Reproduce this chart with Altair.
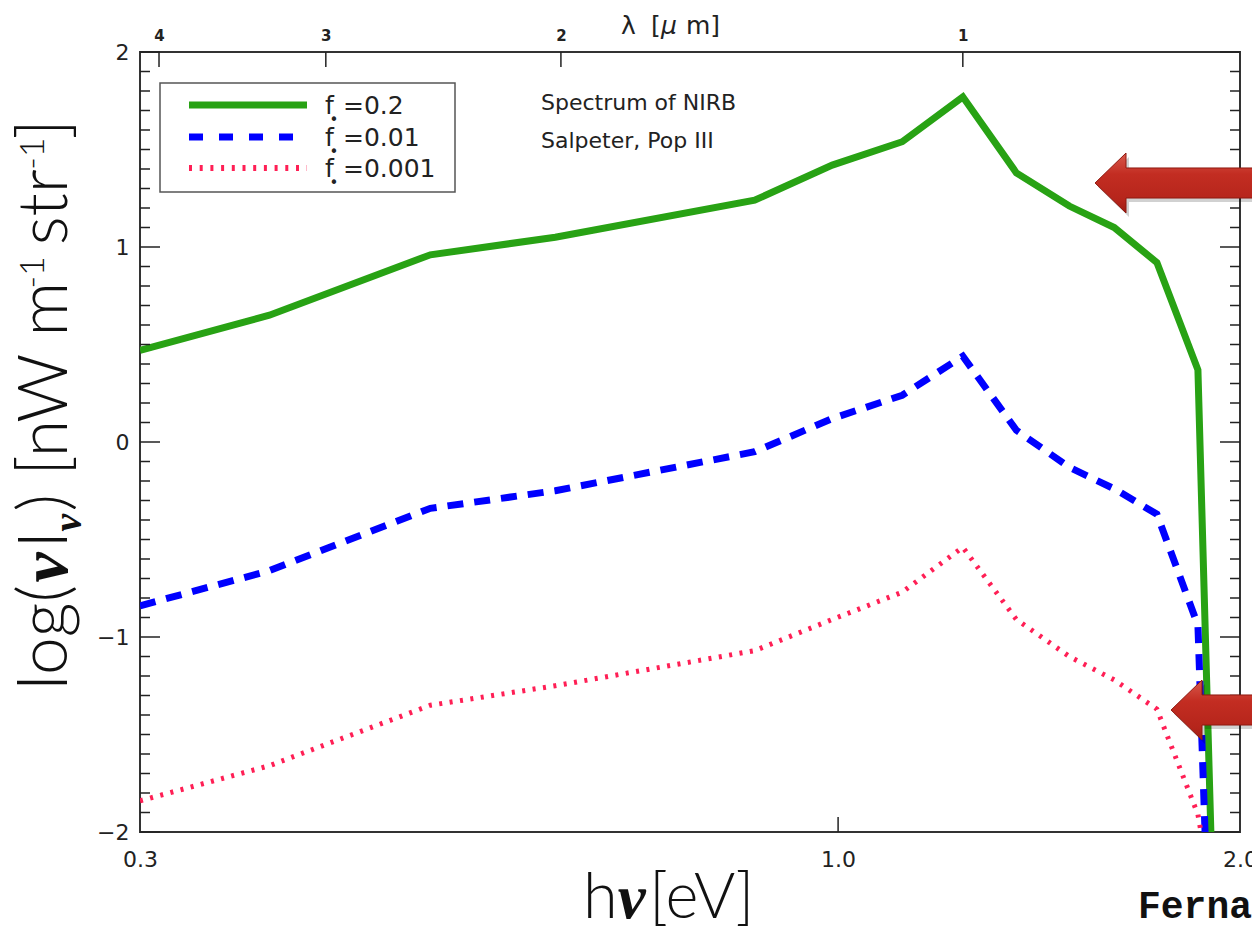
import altair as alt
import numpy as np
import pandas as pd

# ---------------------------------------------------------------------------
# Model NIRB spectra: log10(nu I_nu) [nW m^-1 sr^-1] versus photon energy (eV)
# ---------------------------------------------------------------------------
energy_ev = [0.300, 0.375, 0.495, 0.614, 0.866, 0.990, 1.117, 1.240,
             1.360, 1.490, 1.610, 1.733, 1.860]

log_i_f02 = [0.47, 0.65, 0.96, 1.05, 1.24, 1.42, 1.54, 1.77,
             1.38, 1.21, 1.10, 0.92, 0.37]
log_i_f001 = [-0.84, -0.66, -0.34, -0.25, -0.05, 0.12, 0.24, 0.44,
              0.06, -0.13, -0.24, -0.37, -0.94]
log_i_f0001 = [-1.84, -1.66, -1.35, -1.25, -1.07, -0.91, -0.77, -0.54,
               -0.91, -1.10, -1.22, -1.37, -1.91]

# where each spectrum falls through the floor of the panel
cutoff_ev = [1.902, 1.883, 1.870]
cutoff_log_i = -2.0

models = ["f02", "f001", "f0001"]
model_values = ["0.2", "0.01", "0.001"]
model_series = [log_i_f02, log_i_f001, log_i_f0001]

# axis labelling
bottom_ticks_ev = [0.3, 1.0, 2.0]
lambda_ticks_um = [4, 3, 2, 1]
hc_ev_um = 1.24
y_major = [-2, -1, 0, 1, 2]

rows = []
for m, ys, ec in zip(models, model_series, cutoff_ev):
    for i, (e, v) in enumerate(zip(energy_ev, ys)):
        rows.append({"model": m, "i": i, "E": e, "logI": v})
    rows.append({"model": m, "i": len(ys), "E": ec, "logI": cutoff_log_i})
spectra = pd.DataFrame(rows)

lambda_df = pd.DataFrame({"lam": lambda_ticks_um})
lambda_df["E"] = hc_ev_um / lambda_df["lam"]

y_all = np.round(np.arange(-20, 21) / 10.0, 1)
minor_df = pd.DataFrame({"v": [v for v in y_all if v not in y_major]})
major_df = pd.DataFrame({"v": y_major})

# ---------------------------------------------------------------------------
W, H = 1100, 780
LEFT, TOP = 140, 52
INK = "#222222"
SANS = "DejaVu Sans"

x_scale = alt.Scale(type="log", domain=[0.3, 2.0], nice=False)
y_scale = alt.Scale(domain=[-2, 2], nice=False, zero=False)


def px(x):
    return x - LEFT


def py(y):
    return y - TOP


def text_at(txt, x, y, **kw):
    kw.setdefault("color", INK)
    kw.setdefault("baseline", "alphabetic")
    kw.setdefault("align", "left")
    return alt.Chart(alt.Data(values=[{"t": txt}])).mark_text(**kw).encode(
        x=alt.value(px(x)), y=alt.value(py(y)), text="t:N"
    )


bottom_axis = alt.Axis(
    values=bottom_ticks_ev, format=".1f", ticks=False, domain=False, grid=False,
    labelFont=SANS, labelFontSize=22, labelColor=INK,
    labelPadding=17, labelFlush=False, labelOverlap=False, title=None,
)
left_axis = alt.Axis(
    values=y_major, format="d", ticks=False, domain=False, grid=False,
    labelFont=SANS, labelFontSize=22, labelColor=INK,
    labelPadding=11, labelOverlap=False, title=None,
)
top_axis = alt.Axis(
    orient="top", values=list(lambda_df["E"]),
    labelExpr="format(1.24 / datum.value, '.0f')",
    ticks=False, domain=False, grid=False,
    labelFont=SANS, labelFontSize=15, labelFontWeight="bold",
    labelColor=INK, labelPadding=9, labelFlush=False, labelOverlap=False,
    title=None,
)


def spectrum(model, color, width, dash=None, with_axes=False):
    mark_kw = dict(color=color, strokeWidth=width, clip=True,
                   strokeJoin="miter", strokeCap="butt")
    if dash:
        mark_kw["strokeDash"] = dash
    return alt.Chart(spectra[spectra.model == model]).mark_line(**mark_kw).encode(
        x=alt.X("E:Q", scale=x_scale, axis=bottom_axis if with_axes else None),
        y=alt.Y("logI:Q", scale=y_scale, axis=left_axis if with_axes else None),
        order="i:Q",
    )


GREEN, BLUE, RED = "#28A214", "#0000FF", "#FF1F55"
lines = [
    spectrum("f02", GREEN, 7, with_axes=True),
    spectrum("f001", BLUE, 7, dash=[16, 11]),
    spectrum("f0001", RED, 5, dash=[3, 7.5]),
]


# inward tick marks on all four sides
def yticks(df, x0, x1):
    return alt.Chart(df).mark_rule(color=INK, strokeWidth=1.5).encode(
        y=alt.Y("v:Q", scale=y_scale, axis=None),
        x=alt.value(x0), x2=alt.value(x1),
    )


ticks = [
    yticks(minor_df, 0, 10), yticks(major_df, 0, 20),
    yticks(minor_df, W, W - 10), yticks(major_df, W, W - 20),
    alt.Chart(lambda_df).mark_rule(color=INK, strokeWidth=1.5).encode(
        x=alt.X("E:Q", scale=x_scale, axis=top_axis),
        y=alt.value(0), y2=alt.value(15),
    ),
    alt.Chart(pd.DataFrame({"E": [1.0]})).mark_rule(color=INK, strokeWidth=1.5).encode(
        x=alt.X("E:Q", scale=x_scale, axis=None),
        y=alt.value(H), y2=alt.value(H - 15),
    ),
]

# legend box
legend = [
    alt.Chart(alt.Data(values=[{}])).mark_rect(
        fill="white", stroke="#555555", strokeWidth=1.5
    ).encode(x=alt.value(px(160)), x2=alt.value(px(455)),
             y=alt.value(py(83)), y2=alt.value(py(192))),
]
legend_rows = [105, 137, 168]
legend_styles = [(GREEN, 7, None), (BLUE, 7, [14, 16]), (RED, 6, [3, 7.7])]
for yrow, (col, w, dash), val in zip(legend_rows, legend_styles, model_values):
    kw = dict(color=col, strokeWidth=w, strokeCap="butt")
    if dash:
        kw["strokeDash"] = dash
    legend.append(
        alt.Chart(alt.Data(values=[{}])).mark_rule(**kw).encode(
            x=alt.value(px(189)), x2=alt.value(px(307)), y=alt.value(py(yrow)))
    )
    legend.append(text_at("f", 325, yrow + 9, font=SANS, fontSize=25))
    legend.append(text_at("•", 334, yrow + 20, align="center", font=SANS, fontSize=15))
    legend.append(text_at("=" + val, 343, yrow + 9, font=SANS, fontSize=25))

notes = [
    text_at("Spectrum of NIRB", 541, 110, font=SANS, fontSize=22),
    text_at("Salpeter, Pop III", 541, 148, font=SANS, fontSize=22),
    text_at("λ", 621, 34, font=SANS, fontSize=25),
    text_at("[", 651, 34, font=SANS, fontSize=25),
    text_at("μ", 661, 34, font=SANS, fontSize=25, fontStyle="italic"),
    text_at("m]", 686, 34, font=SANS, fontSize=25),
    text_at("Fernandez", 1138, 918, font="Liberation Mono",
            fontSize=38, fontWeight="bold", color="#111111"),
]

# large axis titles built from pieces (bold nu, sub/superscripts)
EM = {"l": 0.23, "o": 0.56, "g": 0.50, "(": 0.29, ")": 0.29, "I": 0.25, " ": 0.19,
      "[": 0.29, "]": 0.29, "n": 0.55, "W": 0.93, "m": 0.84, "s": 0.41, "t": 0.34,
      "r": 0.36, "-": 0.33, "1": 0.56, "ν": 0.50, "h": 0.55, "e": 0.53, "V": 0.65}


def width(txt, size):
    return sum(EM.get(c, 0.55) for c in txt) * size


LIGHT = dict(font="Lato", fontWeight=300)
NU = dict(font="Liberation Serif", fontWeight="bold", fontStyle="italic")
T = 68
SPACE = 0.19 * T
# (text, font size, style, baseline shift, extra gap after the piece)
y_title = [
    ("log(", T, LIGHT, 0, 0), ("ν", T, NU, 0, 0), ("I", T, LIGHT, 0, 0),
    ("ν", 40, NU, 14, 0), (") [nW m", T, LIGHT, 0, 0), ("-1", 34, LIGHT, -23, SPACE),
    ("str", T, LIGHT, 0, 0), ("-1", 34, LIGHT, -23, 0), ("]", T, LIGHT, 0, 0),
]
titles = []
ypos, base_x = 690, 67
for txt, size, style, shift, gap in y_title:
    titles.append(text_at(txt, base_x + shift, ypos, angle=270,
                          fontSize=size, color="#111111", **style))
    ypos -= width(txt, size) + gap

x_title = [("h", 63, LIGHT), ("ν", 63, NU), ("[eV]", 63, LIGHT)]
xpos = 583
for txt, size, style in x_title:
    titles.append(text_at(txt, xpos, 918, fontSize=size, color="#111111", **style))
    xpos += width(txt, size)

# red pointer arrows
ARROW = "M -0.944 0 L -0.6 -0.333 L -0.6 -0.167 L 1 -0.167 L 1 0.167 L -0.6 0.167 L -0.6 0.333 Z"
arrow_fill = alt.LinearGradient(
    gradient="linear", x1=0, x2=0, y1=0, y2=1,
    stops=[alt.GradientStop(color="#d8594c", offset=0),
           alt.GradientStop(color="#c32d22", offset=0.35),
           alt.GradientStop(color="#b5251b", offset=0.8),
           alt.GradientStop(color="#9c1d14", offset=1)],
)
arrows = []
for cx, cy in [(1180, 183), (1256, 710)]:
    arrows.append(alt.Chart(alt.Data(values=[{}])).mark_point(
        shape=ARROW, size=180 ** 2, filled=True, fill="#000000", opacity=0.18,
        strokeWidth=0).encode(x=alt.value(px(cx) + 3), y=alt.value(py(cy) + 4)))
    arrows.append(alt.Chart(alt.Data(values=[{}])).mark_point(
        shape=ARROW, size=180 ** 2, filled=True, fill=arrow_fill, opacity=1,
        stroke="#8e1910", strokeWidth=1).encode(x=alt.value(px(cx)), y=alt.value(py(cy))))

chart = alt.layer(*legend, *lines, *ticks, *notes, *titles, *arrows).resolve_axis(
    x="independent", y="independent"
).properties(
    width=W, height=H,
    autosize=alt.AutoSizeParams(type="none"),
    padding={"left": LEFT, "top": TOP, "right": 1252 - LEFT - W, "bottom": 936 - TOP - H},
    background="white",
).configure_view(stroke="#333333", strokeWidth=2)

chart.save("out.html", embed_options={"renderer": "svg", "actions": False})
